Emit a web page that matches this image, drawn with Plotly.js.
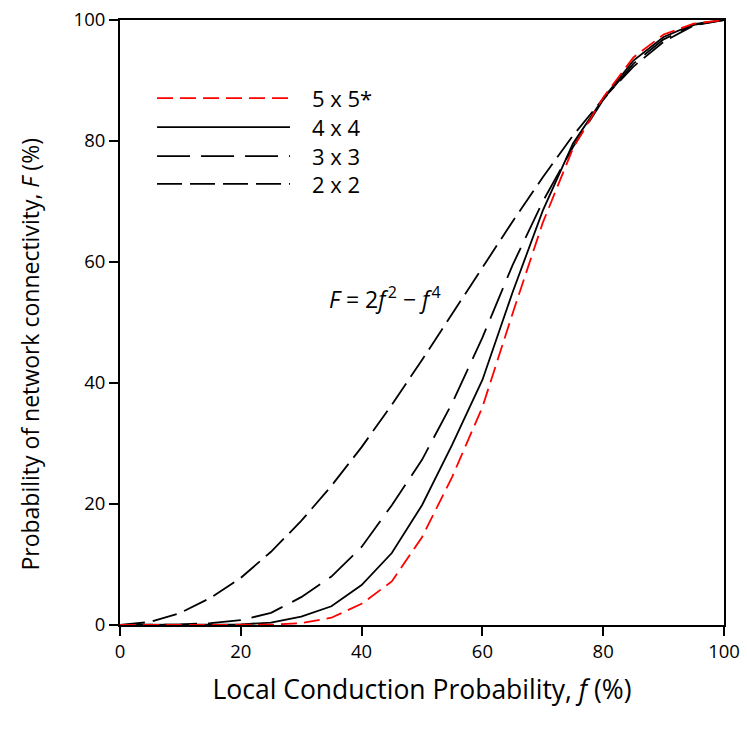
<!DOCTYPE html>
<html>
<head>
<meta charset="utf-8">
<script src="https://cdn.plot.ly/plotly-3.0.1.min.js"></script>
<style>body{margin:0;padding:0;background:#fff}#chart{width:747px;height:730px}</style>
</head>
<body>
<div id="chart"></div>
<script>
const f = [0,5,10,15,20,25,30,35,40,45,50,55,60,65,70,75,80,85,90,95,100];
const grid5x5 = [0,0,0,0,0,0.05,0.3,1.2,3.5,7.2,14.5,24.5,36,51.5,66.5,78.8,87.2,93.8,97.6,99.4,100];
const grid4x4 = [0,0,0,0,0.1,0.4,1.4,3.1,6.6,11.9,19.8,29.8,40.5,55,68.5,79.6,87,93.3,97.2,99.3,100];
const grid3x3 = [0,0,0.1,0.3,0.8,2.0,4.6,8.0,12.9,19.8,27.3,36.7,47.5,59.5,70,79,86.8,92.8,96.8,99.2,100];
const grid2x2 = [0,0.5,2.0,4.5,7.8,12.1,17.2,23.0,29.4,36.4,43.8,51.4,59.0,66.7,74.0,80.9,87.0,92.3,96.4,99.1,100];
const seriesNames = ["5 x 5*","4 x 4","3 x 3","2 x 2"];
const xTicks = [0,20,40,60,80,100];
const yTicks = [0,20,40,60,80,100];

const styles = [
  {color:'#ff0000', dash:'16px,7px'},
  {color:'#000000', dash:'solid'},
  {color:'#000000', dash:'33px,11px'},
  {color:'#000000', dash:'25px,8px'}
];
const ys = [grid5x5, grid4x4, grid3x3, grid2x2];
const traces = ys.map((y,i)=>({
  x:f, y:y, type:'scatter', mode:'lines', name:seriesNames[i],
  line:{color:styles[i].color, dash:styles[i].dash, width:1.8},
  showlegend:false, hoverinfo:'skip'
})).reverse();

const FONT = '"Open Sans", Lato, sans-serif';
const legRows = [0.871,0.823,0.775,0.729];
const shapes = [];
const annotations = [];
seriesNames.forEach((n,i)=>{
  shapes.push({type:'line', xref:'paper', yref:'paper', x0:0.0613, x1:0.2815, y0:legRows[i], y1:legRows[i],
    line:{color:styles[i].color, dash:styles[i].dash, width:1.8}});
  annotations.push({xref:'paper', yref:'paper', x:0.3146, y:legRows[i], xanchor:'left', yanchor:'middle',
    text:n, showarrow:false, font:{family:FONT, size:22, color:'#000'}});
});
annotations.push({xref:'x', yref:'y', x:34.3, y:54, xanchor:'left', yanchor:'middle',
  text:'<i>F</i> = 2<i>f</i>&#8202;<sup>2</sup> − <i>f</i>&#8202;<sup>4</sup>', showarrow:false,
  font:{family:FONT, size:23, color:'#000'}});
annotations.push({xref:'paper', yref:'paper', x:-0.149, y:0.447, xanchor:'center', yanchor:'middle', textangle:-90,
  text:'Probability of network connectivity, <i>F</i> (%)', showarrow:false,
  font:{family:FONT, size:23, color:'#000'}});

const layout = {
  width:747, height:730,
  margin:{l:120, r:23, t:20, b:105},
  paper_bgcolor:'#fff', plot_bgcolor:'#fff',
  font:{family:FONT, color:'#000'},
  xaxis:{range:[0,100], tickvals:xTicks, ticktext:xTicks.map(String), showgrid:false, zeroline:false,
    showline:true, mirror:true, linecolor:'#000', linewidth:2, ticks:'outside', ticklen:9, tickwidth:2, tickcolor:'#000',
    tickfont:{size:18.5, family:FONT}, fixedrange:true,
    title:{text:'Local Conduction Probability, <i>f</i> (%)', font:{size:26.5, family:FONT}, standoff:18}},
  yaxis:{range:[0,100], tickvals:yTicks, ticktext:yTicks.map(String), showgrid:false, zeroline:false,
    showline:true, mirror:true, linecolor:'#000', linewidth:2, ticks:'outside', ticklen:9, tickwidth:2, tickcolor:'#000',
    tickfont:{size:18.5, family:FONT}, fixedrange:true},
  shapes:shapes, annotations:annotations
};
Plotly.newPlot('chart', traces, layout, {staticPlot:true, displayModeBar:false});
</script>
</body>
</html>
